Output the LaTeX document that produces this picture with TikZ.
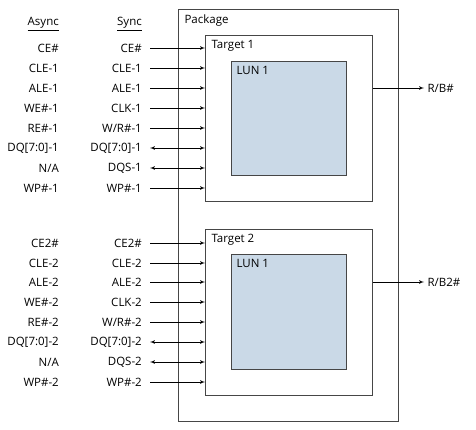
\documentclass[tikz,border=0pt]{standalone}
\usepackage{fontspec}
\setmainfont{Open Sans}
\usetikzlibrary{arrows,positioning}
\definecolor{lunblue}{RGB}{202,217,231}
\definecolor{boxgray}{RGB}{70,70,70}

\begin{document}
\begin{tikzpicture}[x=1pt,y=-1pt,font=\fontsize{11.5}{13}\selectfont]
\tikzset{box/.style = {draw=boxgray,line width=.8pt,inner sep=0pt,anchor=north west},
 pin/.style = {anchor=east,inner sep=0pt},
 edge/.style = {->,> = latex',line width=.7pt},
 bidir/.style = {<->,> = latex',line width=.7pt}}
\useasboundingbox (0,0) rectangle (476,430);
%package outline
\draw[box] (178,9) rectangle (398,421);
\node[anchor=north west] (pkg) at (181,11) {Package};
%targets and luns
\node[box,minimum width=167pt,minimum height=166pt] (t1) at (205,35) {};
\node[box,fill=lunblue,minimum width=115pt,minimum height=114pt] (lun1) at (231,61) {};
\node[anchor=north west] (t1txt) at ([shift={(3,2)}]t1.north west) {Target 1};
\node[anchor=north west] (lun1txt) at ([shift={(2,2)}]lun1.north west) {LUN 1};
\node[box,minimum width=167pt,minimum height=166pt] (t2) at (205,229) {};
\node[box,fill=lunblue,minimum width=115pt,minimum height=115pt] (lun2) at (231,254) {};
\node[anchor=north west] (t2txt) at ([shift={(3,2)}]t2.north west) {Target 2};
\node[anchor=north west] (lun2txt) at ([shift={(2,2)}]lun2.north west) {LUN 1};
%ready/busy outputs
\node[anchor=west] (rb1) at (424,88) {R/B\#}; \draw[edge] (rb1 -| t1.east) -- (rb1.west);
\node[anchor=west] (rb2) at (424,282) {R/B2\#}; \draw[edge] (rb2 -| t2.east) -- (rb2.west);
%column heads
\node[pin] (async) at (59,24) {\underline{Async}};
\node[pin] (sync) at (142,24) {\underline{Sync}};
%signals of target 1
\node[pin] (a1) at (59,48) {CE\#}; \node[pin] (s1) at (142,48) {CE\#}; \draw[edge] ([xshift=8pt]s1.east) -- (s1 -| t1.west);
\node[pin] (a2) at (59,68) {CLE-1}; \node[pin] (s2) at (142,68) {CLE-1}; \draw[edge] ([xshift=8pt]s2.east) -- (s2 -| t1.west);
\node[pin] (a3) at (59,88) {ALE-1}; \node[pin] (s3) at (142,88) {ALE-1}; \draw[edge] ([xshift=8pt]s3.east) -- (s3 -| t1.west);
\node[pin] (a4) at (59,108) {WE\#-1}; \node[pin] (s4) at (142,108) {CLK-1}; \draw[edge] ([xshift=8pt]s4.east) -- (s4 -| t1.west);
\node[pin] (a5) at (59,128) {RE\#-1}; \node[pin] (s5) at (142,128) {W/R\#-1}; \draw[edge] ([xshift=8pt]s5.east) -- (s5 -| t1.west);
\node[pin] (a6) at (59,148) {DQ[7:0]-1}; \node[pin] (s6) at (142,148) {DQ[7:0]-1}; \draw[bidir] ([xshift=8pt]s6.east) -- (s6 -| t1.west);
\node[pin] (a7) at (59,168) {N/A}; \node[pin] (s7) at (142,168) {DQS-1}; \draw[bidir] ([xshift=8pt]s7.east) -- (s7 -| t1.west);
\node[pin] (a8) at (59,188) {WP\#-1}; \node[pin] (s8) at (142,188) {WP\#-1}; \draw[edge] ([xshift=8pt]s8.east) -- (s8 -| t1.west);
%signals of target 2
\node[pin] (b1) at (59,243) {CE2\#}; \node[pin] (u1) at (142,243) {CE2\#}; \draw[edge] ([xshift=8pt]u1.east) -- (u1 -| t2.west);
\node[pin] (b2) at (59,263) {CLE-2}; \node[pin] (u2) at (142,263) {CLE-2}; \draw[edge] ([xshift=8pt]u2.east) -- (u2 -| t2.west);
\node[pin] (b3) at (59,282) {ALE-2}; \node[pin] (u3) at (142,282) {ALE-2}; \draw[edge] ([xshift=8pt]u3.east) -- (u3 -| t2.west);
\node[pin] (b4) at (59,302) {WE\#-2}; \node[pin] (u4) at (142,302) {CLK-2}; \draw[edge] ([xshift=8pt]u4.east) -- (u4 -| t2.west);
\node[pin] (b5) at (59,322) {RE\#-2}; \node[pin] (u5) at (142,322) {W/R\#-2}; \draw[edge] ([xshift=8pt]u5.east) -- (u5 -| t2.west);
\node[pin] (b6) at (59,342) {DQ[7:0]-2}; \node[pin] (u6) at (142,342) {DQ[7:0]-2}; \draw[bidir] ([xshift=8pt]u6.east) -- (u6 -| t2.west);
\node[pin] (b7) at (59,362) {N/A}; \node[pin] (u7) at (142,362) {DQS-2}; \draw[bidir] ([xshift=8pt]u7.east) -- (u7 -| t2.west);
\node[pin] (b8) at (59,382) {WP\#-2}; \node[pin] (u8) at (142,382) {WP\#-2}; \draw[edge] ([xshift=8pt]u8.east) -- (u8 -| t2.west);
\end{tikzpicture}
\end{document}
